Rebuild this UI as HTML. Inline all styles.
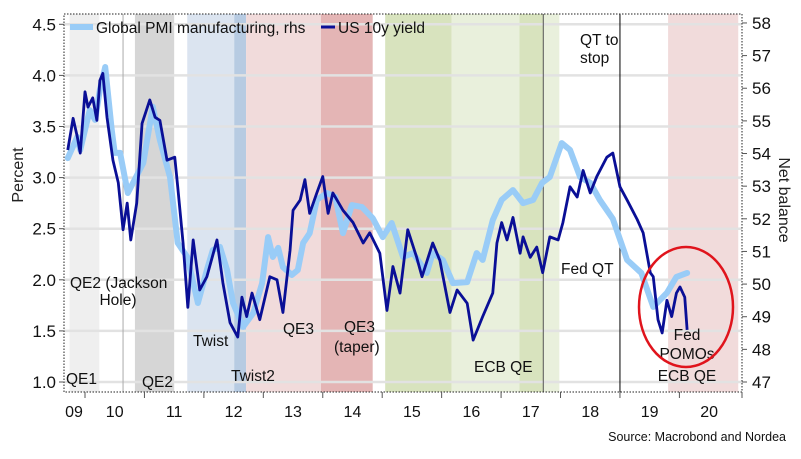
<!DOCTYPE html>
<html><head><meta charset="utf-8">
<style>
html,body{margin:0;padding:0;background:#fff;}
svg{display:block;font-family:"Liberation Sans",sans-serif;}
</style></head>
<body>
<svg id="chart" width="801" height="459" viewBox="0 0 801 459">
<g id="bands"></g>
<g id="grid"></g>
<g id="vlines"></g>
<g id="series"></g>
<g id="axes"></g>
<g id="labels"></g>
</svg>
<script>
// ---- data ----
const yieldT=[2009.71,2009.80,2009.87,2009.92,2010.00,2010.05,2010.13,2010.20,2010.25,2010.30,2010.37,2010.47,2010.56,2010.64,2010.71,2010.77,2010.87,2010.96,2011.09,2011.18,2011.26,2011.38,2011.51,2011.56,2011.65,2011.73,2011.82,2011.93,2012.05,2012.22,2012.32,2012.44,2012.57,2012.64,2012.72,2012.81,2012.94,2013.11,2013.23,2013.33,2013.45,2013.50,2013.62,2013.70,2013.78,2013.90,2014.00,2014.09,2014.17,2014.34,2014.51,2014.68,2014.79,2014.96,2015.08,2015.18,2015.30,2015.43,2015.58,2015.67,2015.85,2015.97,2016.14,2016.26,2016.43,2016.53,2016.69,2016.86,2016.93,2017.01,2017.10,2017.20,2017.32,2017.37,2017.49,2017.60,2017.70,2017.82,2017.96,2018.04,2018.16,2018.28,2018.38,2018.50,2018.61,2018.78,2018.88,2019.00,2019.12,2019.29,2019.39,2019.51,2019.56,2019.64,2019.71,2019.79,2019.87,2019.95,2020.01,2020.09,2020.13];
const yieldV=[3.27,3.58,3.40,3.24,3.84,3.69,3.78,3.56,3.95,4.02,3.59,3.17,2.95,2.49,2.75,2.39,2.75,3.53,3.76,3.59,3.56,3.17,3.20,2.91,2.36,1.73,2.39,1.90,2.03,2.39,1.97,1.58,1.44,1.83,1.64,1.87,1.61,2.03,2.00,1.68,2.29,2.68,2.78,2.98,2.65,2.85,3.01,2.65,2.85,2.68,2.56,2.36,2.46,2.26,1.70,2.13,1.87,2.49,2.22,2.03,2.36,2.19,1.68,1.90,1.77,1.41,1.64,1.87,2.36,2.56,2.39,2.61,2.26,2.42,2.22,2.32,2.07,2.42,2.39,2.56,2.91,2.81,3.07,2.85,3.01,3.20,3.24,2.91,2.78,2.59,2.46,2.07,2.03,1.61,1.48,1.80,1.64,1.87,1.93,1.83,1.51];
const pmiT=[2009.71,2009.87,2009.92,2010.08,2010.17,2010.25,2010.34,2010.45,2010.50,2010.59,2010.72,2010.98,2011.14,2011.26,2011.43,2011.56,2011.72,2011.90,2012.05,2012.15,2012.27,2012.39,2012.49,2012.66,2012.83,2012.98,2013.08,2013.16,2013.25,2013.33,2013.48,2013.58,2013.67,2013.78,2013.90,2014.07,2014.21,2014.34,2014.49,2014.66,2014.84,2015.01,2015.16,2015.35,2015.52,2015.75,2015.85,2016.02,2016.19,2016.43,2016.59,2016.69,2016.86,2017.01,2017.20,2017.37,2017.54,2017.69,2017.82,2018.02,2018.16,2018.33,2018.50,2018.66,2018.88,2019.12,2019.36,2019.56,2019.79,2019.95,2020.13];
const pmiV=[53.86,54.51,54.11,55.33,55.03,55.95,56.65,54.72,54.02,54.02,52.79,53.71,55.43,54.41,53.28,51.26,50.83,49.42,50.43,51.04,51.14,50.43,49.42,48.69,49.11,50.03,51.44,50.83,51.11,50.52,50.28,50.43,51.26,51.56,52.58,52.79,52.67,51.56,52.42,52.36,52.02,51.44,51.87,50.83,50.95,50.34,50.95,50.74,50.03,50.06,50.95,50.74,51.96,52.58,52.88,52.48,52.58,53.10,53.28,54.32,54.11,53.28,53.10,52.58,52.00,50.74,50.34,49.30,49.73,50.22,50.34];
const leftTicks=[1.0,1.5,2.0,2.5,3.0,3.5,4.0,4.5];
const rightTicks=[47,48,49,50,51,52,53,54,55,56,57,58];
const yearLabels=["09","10","11","12","13","14","15","16","17","18","19","20"];
const yearStarts=[2009,2010,2011,2012,2013,2014,2015,2016,2017,2018,2019,2020];
const bandStart=[2009.74,2010.84,2011.72,2012.51,2012.71,2013.97,2015.05,2016.17,2017.31,2017.71,2019.81];
const bandEnd=[2010.24,2011.50,2012.51,2012.71,2013.97,2014.84,2016.17,2017.31,2017.71,2017.98,2020.99];
const bandColor=["#efefef","#d6d6d6","#dbe4f0","#b7cbe2","#f1dbdb","#e4b5b5","#d8e3be","#e9f0dc","#d8e3be","#e9f0dc","#f1dbdb"];
const eventT=[2010.64,2017.71,2019.00];
const eventColor=["#aaa","#555","#000"];

// ---- scales ----
const X0=64,X1=742,Y0=14,Y1=392;
const x=t=>85+(t-2010)*59.44;
const yL=v=>382-(v-1)*102.2;
const yR=v=>382-(v-47)*32.64;
const NS="http://www.w3.org/2000/svg";
function mk(tag,parent,attrs){const e=document.createElementNS(NS,tag);for(const k in attrs)e.setAttribute(k,attrs[k]);parent.appendChild(e);return e;}
const g=id=>document.getElementById(id);

bandStart.forEach((s,i)=>{
  const r=mk('rect',g('bands'),{x:x(s),y:Y0,width:x(bandEnd[i])-x(s),height:Y1-Y0,fill:bandColor[i]});
  
  
});
leftTicks.forEach(v=>{
  const l=mk('line',g('grid'),{x1:X0,x2:X1,y1:yL(v),y2:yL(v),stroke:"#e2e2e2","stroke-width":2.5});
  
  
});
eventT.forEach((t,i)=>{
  const l=mk('line',g('vlines'),{x1:x(t),x2:x(t),y1:Y0,y2:Y1,stroke:eventColor[i],"stroke-width":1});
  
  
});
const pmiPath=mk('polyline',g('series'),{points:pmiT.map((t,i)=>x(t)+","+yR(pmiV[i])).join(" "),fill:"none",stroke:"#99ccf7","stroke-width":6,"stroke-linejoin":"round","stroke-linecap":"round"});


const yPath=mk('polyline',g('series'),{points:yieldT.map((t,i)=>x(t)+","+yL(yieldV[i])).join(" "),fill:"none",stroke:"#0a0f96","stroke-width":2.8,"stroke-linejoin":"round"});



// axes
const frame=mk('rect',g('axes'),{x:X0,y:Y0,width:X1-X0,height:Y1-Y0,fill:"none",stroke:"#222","stroke-width":1,"stroke-dasharray":"1.5,1.5"});


leftTicks.forEach(v=>{
  mk('line',g('axes'),{x1:X0-5,x2:X0,y1:yL(v),y2:yL(v),stroke:"#555"});
  const t=mk('text',g('axes'),{x:56,y:yL(v)+6,"text-anchor":"end","font-size":17,fill:"#111"});
  t.textContent=v.toFixed(1);
  
  
});
rightTicks.forEach(v=>{
  mk('line',g('axes'),{x1:X1,x2:X1+5,y1:yR(v),y2:yR(v),stroke:"#555"});
  const t=mk('text',g('axes'),{x:752,y:yR(v)+6,"font-size":17,fill:"#111"});
  t.textContent=v;
  
  
});
yearStarts.forEach((yr,i)=>{
  if(i>0) mk('line',g('axes'),{x1:x(yr),x2:x(yr),y1:Y1,y2:Y1+6,stroke:"#555"});
  const cx=i==0?74:x(yr)+29.7;
  const t=mk('text',g('axes'),{x:cx,y:417,"text-anchor":"middle","font-size":16,fill:"#111"});
  t.textContent=yearLabels[i];
  
  
});
mk('line',g('axes'),{x1:X1,x2:X1,y1:Y1,y2:Y1+6,stroke:"#555"});
</script>
<script>
(function(){
const L=document.getElementById('labels');
const NS="http://www.w3.org/2000/svg";
const items=[
 ["QE2 (Jackson",70,288,"start","band-label-qe2-jackson"],["Hole)",118,305,"middle","band-label-hole"],
 ["QE1",66,384,"start","band-label-qe1"],["QE2",142,387,"start","band-label-qe2"],
 ["Twist",193,346,"start","band-label-twist"],["Twist2",231,381,"start","band-label-twist2"],
 ["QE3",283,334,"start","band-label-qe3"],["QE3",344,332,"start","band-label-qe3-taper"],["(taper)",334,352,"start","band-label-taper"],
 ["ECB QE",474,372,"start","band-label-ecb-qe"],["Fed QT",561,274,"start","band-label-fed-qt"],
 ["QT to",580,45,"start","label-qt-to-stop"],["stop",580,63,"start","label-stop"],
 ["Fed",687,340,"middle","label-fed"],["POMOs",687,359,"middle","label-pomos"],["ECB QE",687,381,"middle","label-ecb-qe-2020"]
];
items.forEach(a=>{
 const t=document.createElementNS(NS,'text');
 t.setAttribute('x',a[1]);t.setAttribute('y',a[2]);t.setAttribute('text-anchor',a[3]);
 t.setAttribute('font-size','15.5');t.setAttribute('fill','#111');
 t.textContent=a[0];
 
 
 L.appendChild(t);
});
})();
</script>
<svg width="0" height="0"></svg>
<script>
(function(){
const S=document.getElementById('chart');const NS="http://www.w3.org/2000/svg";
function add(tag,attrs,txt){const e=document.createElementNS(NS,tag);for(const k in attrs)e.setAttribute(k,attrs[k]);if(txt)e.textContent=txt;S.appendChild(e);return e;}
const c=add('ellipse',{cx:686,cy:307,rx:47,ry:60,fill:"none",stroke:"#e0141c","stroke-width":2.5});


const l1=add('line',{x1:70,x2:93,y1:27,y2:27,stroke:"#99ccf7","stroke-width":6});


const t1=add('text',{x:96,y:33,"font-size":15.5,fill:"#111"},"Global PMI manufacturing, rhs");


const l2=add('line',{x1:321,x2:335,y1:27,y2:27,stroke:"#0a0f96","stroke-width":3});


const t2=add('text',{x:338,y:33,"font-size":15.5,fill:"#111"},"US 10y yield");


const ya=add('text',{x:0,y:0,"font-size":16,fill:"#222","text-anchor":"middle",transform:"translate(23,175) rotate(-90)"},"Percent");


const yb=add('text',{x:0,y:0,"font-size":16,fill:"#222","text-anchor":"middle",transform:"translate(779,200) rotate(90)"},"Net balance");


const src=add('text',{x:786,y:441,"font-size":12.5,fill:"#111","text-anchor":"end"},"Source: Macrobond and Nordea");


})();
</script>
</body></html>
